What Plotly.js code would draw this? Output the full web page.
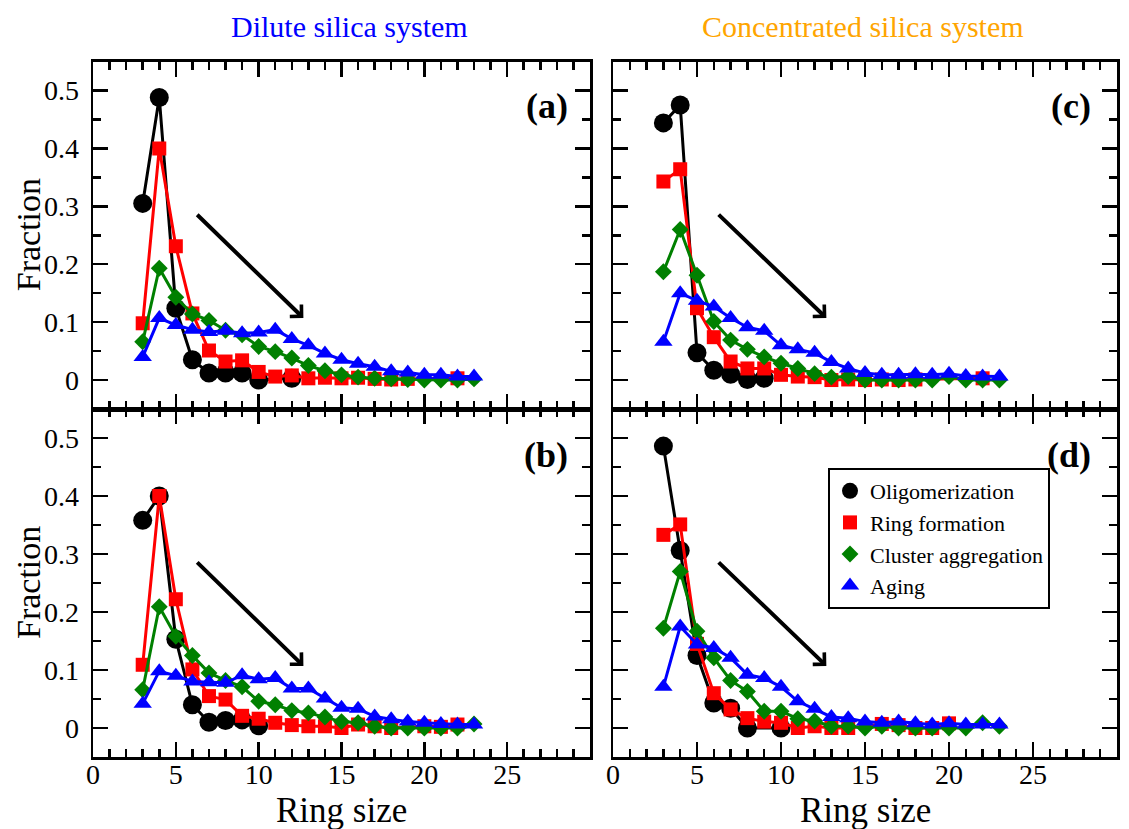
<!DOCTYPE html>
<html>
<head>
<meta charset="utf-8">
<script src="https://cdn.plot.ly/plotly-3.0.1.min.js"></script>
<style>
  html, body { margin: 0; padding: 0; background: #ffffff; }
  #chart { width: 1129px; height: 829px; }
</style>
</head>
<body>
<div id="chart"></div>
<script>
// Ring-size distributions (fraction of rings of each size) for the four stages
const ringSize = [3, 4, 5, 6, 7, 8, 9, 10, 11, 12, 13, 14, 15, 16, 17, 18, 19, 20, 21, 22, 23];

// (a) dilute system, first set
const oligoA   = [0.305, 0.488, 0.124, 0.035, 0.012, 0.012, 0.012, 0.000, null, 0.003, null, null, null, null, null, null, null, null, null, null, null];
const ringA    = [0.098, 0.400, 0.231, 0.115, 0.051, 0.032, 0.034, 0.014, 0.006, 0.008, 0.003, 0.004, 0.003, 0.004, 0.002, 0.001, 0.002, null, null, 0.003, null];
const clusterA = [0.066, 0.193, 0.143, 0.114, 0.103, 0.086, 0.078, 0.058, 0.049, 0.038, 0.025, 0.016, 0.009, 0.005, 0.003, 0.002, 0.001, 0.000, 0.000, 0.000, 0.002];
const agingA   = [0.040, 0.107, 0.095, 0.087, 0.083, 0.085, 0.081, 0.082, 0.087, 0.071, 0.060, 0.046, 0.035, 0.028, 0.023, 0.015, 0.013, 0.009, 0.009, 0.006, 0.006];

// (b) dilute system, second set
const oligoB   = [0.358, 0.400, 0.153, 0.040, 0.010, 0.013, 0.014, 0.004, null, null, null, null, null, null, null, null, null, null, null, null, null];
const ringB    = [0.109, 0.400, 0.222, 0.101, 0.055, 0.049, 0.021, 0.016, 0.009, 0.005, 0.003, 0.003, 0.000, 0.006, 0.003, 0.000, null, 0.003, 0.002, 0.006, null];
const clusterB = [0.066, 0.209, 0.158, 0.125, 0.095, 0.082, 0.071, 0.046, 0.040, 0.030, 0.026, 0.019, 0.011, 0.009, 0.003, 0.000, 0.000, 0.000, 0.000, 0.000, 0.007];
const agingB   = [0.042, 0.098, 0.090, 0.080, 0.079, 0.078, 0.091, 0.084, 0.086, 0.068, 0.068, 0.051, 0.035, 0.033, 0.020, 0.015, 0.011, 0.009, 0.007, 0.006, 0.006];

// (c) concentrated system, first set
const oligoC   = [0.444, 0.475, 0.047, 0.017, 0.010, 0.001, 0.003, null, null, null, null, null, null, null, null, null, null, null, null, null, null];
const ringC    = [0.343, 0.364, 0.124, 0.074, 0.032, 0.020, 0.020, 0.009, 0.006, 0.005, 0.000, 0.001, 0.000, 0.001, 0.000, 0.001, null, null, null, 0.003, null];
const clusterC = [0.187, 0.260, 0.181, 0.101, 0.069, 0.053, 0.040, 0.029, 0.020, 0.011, 0.005, 0.006, 0.000, 0.000, 0.000, 0.000, 0.000, 0.006, 0.000, 0.000, 0.000];
const agingC   = [0.066, 0.150, 0.137, 0.127, 0.107, 0.091, 0.085, 0.060, 0.053, 0.047, 0.031, 0.020, 0.012, 0.009, 0.009, 0.010, 0.009, 0.011, 0.007, 0.006, 0.006];

// (d) concentrated system, second set
const oligoD   = [0.486, 0.306, 0.125, 0.043, 0.034, 0.000, null, 0.000, null, null, null, null, null, null, null, null, null, null, null, null, null];
const ringD    = [0.333, 0.351, 0.145, 0.060, 0.032, 0.017, 0.011, 0.009, 0.000, 0.003, 0.000, 0.000, null, 0.007, 0.005, 0.000, 0.000, 0.008, null, null, null];
const clusterD = [0.172, 0.270, 0.167, 0.121, 0.082, 0.063, 0.029, 0.029, 0.016, 0.012, 0.003, 0.003, 0.000, 0.003, 0.000, 0.000, 0.000, 0.000, 0.000, 0.009, 0.003];
const agingD   = [0.071, 0.175, 0.144, 0.138, 0.121, 0.092, 0.086, 0.071, 0.046, 0.033, 0.019, 0.017, 0.011, 0.009, 0.011, 0.008, 0.006, 0.008, 0.006, 0.006, 0.006];

const stageNames = ['Oligomerization', 'Ring formation', 'Cluster aggregation', 'Aging'];
const panelLabels = ['(a)', '(b)', '(c)', '(d)'];
const systemTitles = ['Dilute silica system', 'Concentrated silica system'];
const xTickLeft = [0, 5, 10, 15, 20, 25];
const xTickRight = [0, 5, 10, 15, 20, 25, 30];
const yTicks = [0, 0.1, 0.2, 0.3, 0.4, 0.5];
const yTickText = ['0', '0.1', '0.2', '0.3', '0.4', '0.5'];
// trend arrow: tail and head in (ring size, fraction)
const arrowTail = [6.2, 0.288];
const arrowHead = [12.7, 0.107];

const FONT = "'Liberation Serif', serif";
const styles = [
  {color: '#000000', symbol: 'circle', size: 19},
  {color: '#ff0000', symbol: 'square', size: 14},
  {color: '#008000', symbol: 'diamond', size: 13},
  {color: '#0000ff', symbol: 'triangle-up', size: 16}
];

const panels = [
  {xa: 'x',  ya: 'y',  series: [oligoA, ringA, clusterA, agingA]},
  {xa: 'x3', ya: 'y3', series: [oligoB, ringB, clusterB, agingB]},
  {xa: 'x2', ya: 'y2', series: [oligoC, ringC, clusterC, agingC]},
  {xa: 'x4', ya: 'y4', series: [oligoD, ringD, clusterD, agingD]}
];

const traces = [];
panels.forEach(p => {
  p.series.forEach((vals, i) => {
    traces.push({
      type: 'scatter', mode: 'lines+markers',
      x: ringSize, y: vals, xaxis: p.xa, yaxis: p.ya,
      connectgaps: true, showlegend: false, name: stageNames[i],
      line: {color: styles[i].color, width: 3},
      marker: {color: styles[i].color, symbol: styles[i].symbol, size: styles[i].size, line: {width: 0}},
      hoverinfo: 'skip'
    });
  });
});
// legend entries (markers only), shown in panel (d)
stageNames.forEach((nm, i) => {
  traces.push({
    type: 'scatter', mode: 'markers', x: [null], y: [null], xaxis: 'x4', yaxis: 'y4',
    name: nm, showlegend: true,
    marker: {color: styles[i].color, symbol: styles[i].symbol, size: styles[i].size}
  });
});

const W = 1129, H = 829;
const colLeft = [93 / W, 590 / W];
const colRight = [613 / W, 1117 / W];
const rowTop = [1 - 409 / H, 1 - 61.5 / H];
const rowBottom = [1 - 757 / H, 1 - 409 / H];

function minorVals(lo, hi, step, majorStep) {
  const out = [];
  for (let v = lo; v <= hi + 1e-9; v += step) {
    const r = Math.round(v / majorStep * 1000) / 1000;
    if (Math.abs(r - Math.round(r)) > 1e-6) out.push(Math.round(v * 1000) / 1000);
  }
  return out;
}

function xAxis(domain, anchor, tickvals, showLabels) {
  return {
    domain: domain, anchor: anchor, range: [0, 30],
    tickmode: 'array', tickvals: tickvals, ticktext: tickvals.map(String),
    showticklabels: showLabels,
    ticks: 'inside', ticklen: 15, tickwidth: 2.5, tickcolor: '#000',
    minor: {tickmode: 'array', tickvals: minorVals(0, 30, 1, 5), ticks: 'inside', ticklen: 8, tickwidth: 2.5, tickcolor: '#000'},
    showline: true, linewidth: 2.5, linecolor: '#000', mirror: 'ticks',
    showgrid: false, zeroline: false, automargin: false,
    tickfont: {family: FONT, size: 28, color: '#000'}, ticklabelstandoff: -9
  };
}
function yAxis(domain, anchor, showLabels) {
  return {
    domain: domain, anchor: anchor, range: [-0.05, 0.55],
    tickmode: 'array', tickvals: yTicks, ticktext: yTickText,
    showticklabels: showLabels,
    ticks: 'inside', ticklen: 15, tickwidth: 2.5, tickcolor: '#000',
    minor: {tickmode: 'array', tickvals: [-0.05, 0.05, 0.15, 0.25, 0.35, 0.45], ticks: 'inside', ticklen: 8, tickwidth: 2.5, tickcolor: '#000'},
    showline: true, linewidth: 2.5, linecolor: '#000', mirror: 'ticks',
    showgrid: false, zeroline: false, automargin: false,
    tickfont: {family: FONT, size: 28, color: '#000'}, ticklabelstandoff: 6
  };
}

const annotations = [];
// trend arrows
[['x', 'y'], ['x3', 'y3'], ['x2', 'y2'], ['x4', 'y4']].forEach(([xa, ya]) => {
  annotations.push({
    xref: xa, yref: ya, axref: xa, ayref: ya,
    x: arrowHead[0], y: arrowHead[1], ax: arrowTail[0], ay: arrowTail[1],
    text: '', showarrow: true, arrowhead: 4, arrowsize: 0.8, arrowwidth: 4, arrowcolor: '#000', standoff: 0
  });
});
// panel letters
[[570, 106, 0], [570, 455, 1], [1093, 106, 2], [1093, 455, 3]].forEach(([px, py, k]) => {
  annotations.push({
    xref: 'paper', yref: 'paper', x: px / W, y: 1 - py / H, xanchor: 'right', yanchor: 'middle',
    text: '<b>' + panelLabels[k] + '</b>', showarrow: false,
    font: {family: FONT, size: 36, color: '#000'}
  });
});
// column headers
annotations.push({xref: 'paper', yref: 'paper', x: 349 / W, y: 1 - 27 / H, xanchor: 'center', yanchor: 'middle',
  text: systemTitles[0], showarrow: false, font: {family: FONT, size: 30, color: '#0000ff'}});
annotations.push({xref: 'paper', yref: 'paper', x: 863 / W, y: 1 - 27 / H, xanchor: 'center', yanchor: 'middle',
  text: systemTitles[1], showarrow: false, font: {family: FONT, size: 30, color: '#ffa500'}});
// axis titles
[rowTop, rowBottom].forEach(row => {
  annotations.push({xref: 'paper', yref: 'paper', x: 28 / W, y: (row[0] + row[1]) / 2, xanchor: 'center', yanchor: 'middle',
    text: 'Fraction', textangle: -90, showarrow: false, font: {family: FONT, size: 34, color: '#000'}});
});
[colLeft, colRight].forEach(col => {
  annotations.push({xref: 'paper', yref: 'paper', x: (col[0] + col[1]) / 2, y: 1 - 810 / H, xanchor: 'center', yanchor: 'middle',
    text: 'Ring size', showarrow: false, font: {family: FONT, size: 35, color: '#000'}});
});

const layout = {
  width: W, height: H,
  margin: {l: 0, r: 0, t: 0, b: 0},
  paper_bgcolor: '#ffffff', plot_bgcolor: '#ffffff',
  font: {family: FONT, color: '#000'},
  xaxis:  xAxis(colLeft, 'y', xTickLeft, false),
  yaxis:  yAxis(rowTop, 'x', true),
  xaxis2: xAxis(colRight, 'y2', xTickRight, false),
  yaxis2: yAxis(rowTop, 'x2', false),
  xaxis3: xAxis(colLeft, 'y3', xTickLeft, true),
  yaxis3: yAxis(rowBottom, 'x3', true),
  xaxis4: xAxis(colRight, 'y4', xTickRight, true),
  yaxis4: yAxis(rowBottom, 'x4', false),
  showlegend: true,
  legend: {
    x: 828 / W, y: 1 - 468 / H, xanchor: 'left', yanchor: 'top',
    bgcolor: '#ffffff', bordercolor: '#000', borderwidth: 2,
    font: {family: FONT, size: 22, color: '#000'},
    itemwidth: 30, tracegroupgap: 0
  },
  annotations: annotations
};

Plotly.newPlot('chart', traces, layout, {staticPlot: true, displayModeBar: false});
</script>
</body>
</html>
